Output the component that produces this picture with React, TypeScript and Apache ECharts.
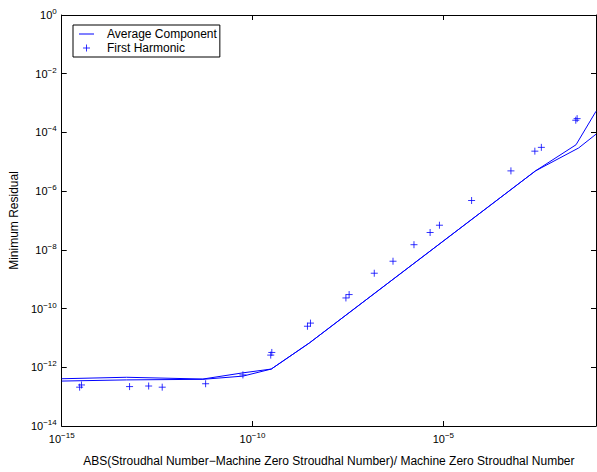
import React, { useEffect, useRef } from "react";
import * as echarts from "echarts";

// First Harmonic markers
const harmonicX = [
  2.95e-15, 3.3e-15, 6.0e-14, 1.9e-13, 4.3e-13, 5.9e-12, 5.6e-11, 3.0e-10, 3.2e-10,
  2.75e-9, 3.3e-9, 2.8e-8, 3.4e-8, 1.55e-7, 4.8e-7, 1.7e-6, 4.5e-6, 7.9e-6, 5.5e-5,
  5.9e-4, 2.5e-3, 3.7e-3, 2.95e-2, 3.2e-2,
];
const harmonicY = [
  2.1e-13, 2.5e-13, 2.2e-13, 2.3e-13, 2.1e-13, 2.75e-13, 5.5e-13, 2.6e-12, 3.2e-12,
  2.5e-11, 3.2e-11, 2.3e-10, 3.0e-10, 1.6e-9, 4.1e-9, 1.5e-8, 3.9e-8, 6.9e-8, 4.8e-7,
  4.9e-6, 2.3e-5, 3.1e-5, 2.6e-4, 2.95e-4,
];

// Average Component (two nearly overlapping traces)
const avgAX = [1e-15, 5.0e-14, 5.0e-12, 5.6e-11, 3.1e-10, 3.1e-9, 2.6e-3, 3.0e-2, 1e-1];
const avgAY = [4.07e-13, 4.57e-13, 3.98e-13, 6.46e-13, 8.7e-13, 6.76e-12, 4.9e-6, 3.8e-5, 5.25e-4];
const avgBX = [1e-15, 5.0e-14, 5.0e-12, 5.6e-11, 3.1e-10, 3.1e-9, 2.6e-3, 3.5e-2, 1e-1];
const avgBY = [3.39e-13, 3.72e-13, 3.89e-13, 5.0e-13, 8.7e-13, 6.76e-12, 4.9e-6, 2.95e-5, 8.7e-5];

const FONT = "Liberation Sans, Arial, Helvetica, sans-serif";
const BLUE = "#0000ff";
const PLUS = "path://M0,5L10,5M5,0L5,10";
const LINE_ICON = "path://M0,0L30,0L30,2L0,2Z";

const zip = (xs: number[], ys: number[]) => xs.map((x, i) => [x, ys[i]]);

const makeFormatter = (step: number) => (v: number) => {
  const e = Math.round(Math.log10(v));
  if (e % step !== 0) return "";
  return "{b|10}{s|" + (e < 0 ? "\u2212" : "") + Math.abs(e) + "}";
};

const rich = {
  b: { fontSize: 11, fontFamily: FONT, color: "#000" },
  s: { fontSize: 8, fontFamily: FONT, color: "#000", padding: [0, 0, 7, 0] },
};

export default function App() {
  const ref = useRef<HTMLDivElement>(null);
  useEffect(() => {
    const chart = echarts.init(ref.current!, null, { renderer: "svg" });
    const axisLine = { show: true, lineStyle: { color: "#000", width: 1 } };
    const axisTick = { show: true, inside: true, length: 5, lineStyle: { color: "#000", width: 1 } };
    chart.setOption({
      animation: false,
      backgroundColor: "#fff",
      grid: { left: 57, top: 15, right: 1, bottom: 37, containLabel: false },
      legend: {
        orient: "vertical",
        left: 73,
        top: 25,
        padding: [3, 3, 3, 6],
        itemGap: 2,
        itemWidth: 15,
        itemHeight: 7,
        borderColor: "#000",
        borderWidth: 1,
        backgroundColor: "#fff",
        textStyle: { fontSize: 12, fontFamily: FONT, color: "#000", padding: [0, 0, 0, 8] },
        data: [
          { name: "Average Component", icon: LINE_ICON, itemStyle: { color: BLUE, borderWidth: 0 } },
          { name: "First Harmonic", icon: PLUS, itemStyle: { color: "transparent", borderColor: BLUE, borderWidth: 1 } },
        ],
      },
      xAxis: [
        {
          type: "log",
          logBase: 10,
          min: 1e-15,
          max: 1e-1,
          interval: 5,
          name: "ABS(Stroudhal Number\u2212Machine Zero Stroudhal Number)/ Machine Zero Stroudhal Number",
          nameLocation: "middle",
          nameGap: 29,
          nameTextStyle: { fontSize: 12, fontFamily: FONT, color: "#000" },
          axisLine,
          axisTick,
          minorTick: { show: false },
          splitLine: { show: false },
          axisLabel: { formatter: makeFormatter(5), rich, margin: 5, showMaxLabel: false },
        },
        {
          type: "log",
          logBase: 10,
          min: 1e-15,
          max: 1e-1,
          interval: 5,
          position: "top",
          axisLine,
          axisTick,
          splitLine: { show: false },
          axisLabel: { show: false },
        },
      ],
      yAxis: [
        {
          type: "log",
          logBase: 10,
          min: 1e-14,
          max: 1,
          interval: 2,
          name: "Minimum Residual",
          nameLocation: "middle",
          nameGap: 41,
          nameTextStyle: { fontSize: 12, fontFamily: FONT, color: "#000" },
          axisLine,
          axisTick,
          splitLine: { show: false },
          axisLabel: { formatter: makeFormatter(2), rich, margin: 5 },
        },
        {
          type: "log",
          logBase: 10,
          min: 1e-14,
          max: 1,
          interval: 2,
          position: "right",
          axisLine,
          axisTick,
          splitLine: { show: false },
          axisLabel: { show: false },
        },
      ],
      series: [
        {
          name: "Average Component",
          type: "line",
          data: zip(avgAX, avgAY),
          symbol: "none",
          lineStyle: { color: BLUE, width: 1 },
          itemStyle: { color: BLUE },
        },
        {
          name: "Average Component",
          type: "line",
          data: zip(avgBX, avgBY),
          symbol: "none",
          lineStyle: { color: BLUE, width: 1 },
          itemStyle: { color: BLUE },
        },
        {
          name: "First Harmonic",
          type: "scatter",
          data: zip(harmonicX, harmonicY),
          symbol: PLUS,
          symbolSize: 7,
          itemStyle: { color: "transparent", borderColor: BLUE, borderWidth: 1 },
        },
      ],
    });
    return () => chart.dispose();
  }, []);
  return (
    <div
      ref={ref}
      style={{ position: "absolute", left: 0, top: 0, width: 597, height: 472 }}
    />
  );
}
